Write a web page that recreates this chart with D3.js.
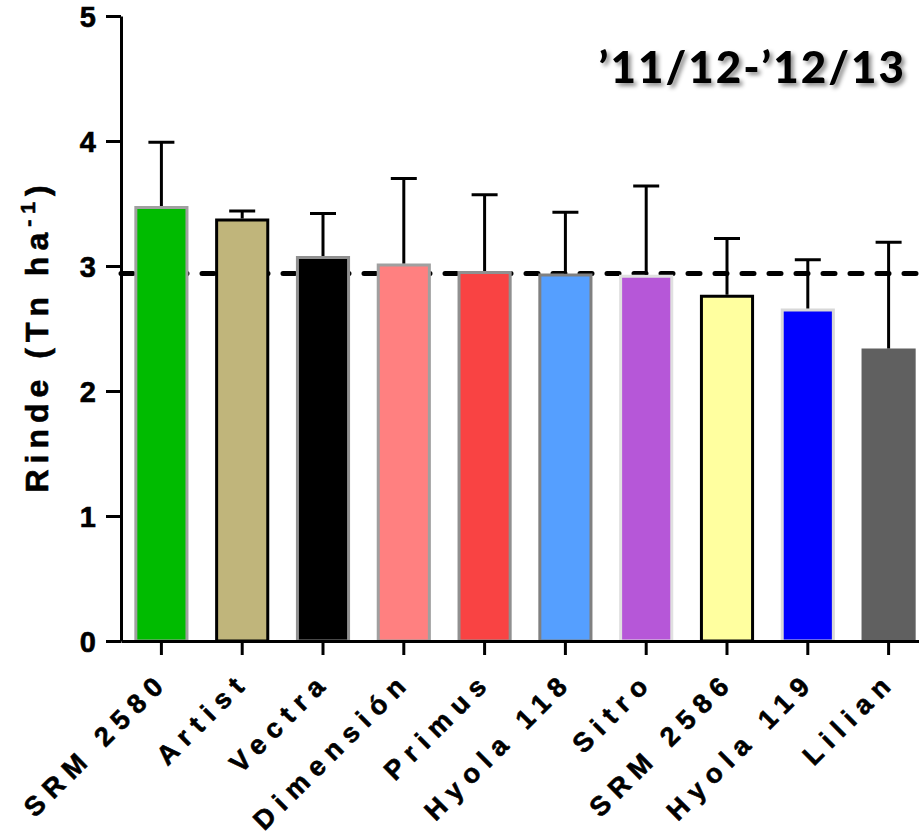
<!DOCTYPE html>
<html>
<head>
<meta charset="utf-8">
<script src="https://cdn.jsdelivr.net/npm/d3@7.9.0/dist/d3.min.js"></script>
<style>
  html, body { margin: 0; padding: 0; background: #fff; }
  svg { display: block; }
  .axis text { font-family: "Liberation Sans", Arial, sans-serif; font-weight: bold; fill: #000; stroke: #000; stroke-width: 0.6px; }
  .axis path, .axis line { stroke: #000; stroke-width: 3; }
</style>
</head>
<body>
<svg width="919" height="836"></svg>
<script>
// data
const cultivars = ['SRM 2580', 'Artist', 'Vectra', 'Dimensión', 'Primus', 'Hyola 118', 'Sitro', 'SRM 2586', 'Hyola 119', 'Lilian'];
const rinde = [3.48, 3.38, 3.08, 3.02, 2.96, 2.94, 2.93, 2.77, 2.66, 2.34];
const errorTop = [3.99, 3.44, 3.42, 3.70, 3.57, 3.43, 3.64, 3.22, 3.05, 3.19];
const fills = ['#00bb00', '#c0b57b', '#000000', '#ff8080', '#f94343', '#559fff', '#b657d8', '#ffff9f', '#0000ff', '#606060'];
const strokes = ['#a0a0a0', '#000000', '#909090', '#a0a0a0', '#909090', '#808080', '#e0e0e0', '#000000', '#d8d8d8', '#606060'];
const promedio = 2.94;
const yTicks = [0, 1, 2, 3, 4, 5];

const svg = d3.select('svg');

const x = d3.scaleBand()
  .domain(cultivars)
  .range([121, 929])
  .paddingInner(0.33)
  .paddingOuter(0.165);

const y = d3.scaleLinear().domain([0, 5]).range([641, 16]);

// dashed mean line (behind bars)
svg.append('line')
  .attr('x1', 121).attr('x2', 919)
  .attr('y1', y(promedio)).attr('y2', y(promedio))
  .attr('stroke', '#000')
  .attr('stroke-width', 5)
  .attr('stroke-linecap', 'round')
  .attr('stroke-dasharray', '12 15');

// bars
svg.selectAll('rect.bar')
  .data(cultivars)
  .join('rect')
  .attr('class', 'bar')
  .attr('x', d => x(d) + 1.5)
  .attr('width', x.bandwidth() - 3)
  .attr('y', (d, i) => y(rinde[i]) + 1.5)
  .attr('height', (d, i) => y(0) - y(rinde[i]) - 1.5)
  .attr('fill', (d, i) => fills[i])
  .attr('stroke', (d, i) => strokes[i])
  .attr('stroke-width', 3);

// error bars (upper only)
const err = svg.append('g').attr('stroke', '#000').attr('stroke-width', 3);
cultivars.forEach((c, i) => {
  const cx = x(c) + x.bandwidth() / 2;
  err.append('line')
    .attr('x1', cx).attr('x2', cx)
    .attr('y1', y(rinde[i])).attr('y2', y(errorTop[i]));
  err.append('line')
    .attr('x1', cx - 13).attr('x2', cx + 13)
    .attr('y1', y(errorTop[i])).attr('y2', y(errorTop[i]));
});

// y axis
const yAxis = svg.append('g')
  .attr('class', 'axis')
  .attr('transform', 'translate(121,0)')
  .call(d3.axisLeft(y).tickValues(yTicks).tickFormat(d3.format('d')).tickSize(15).tickSizeOuter(0).tickPadding(10));
yAxis.selectAll('text').style('font-size', '29px').attr('dy', '0.36em');

// x axis
const xAxis = svg.append('g')
  .attr('class', 'axis')
  .attr('transform', `translate(0,${y(0)})`)
  .call(d3.axisBottom(x).tickSize(14).tickSizeOuter(0));
xAxis.selectAll('text')
  .style('font-size', '27px')
  .style('letter-spacing', '8px')
  .attr('text-anchor', 'end')
  .attr('dy', null)
  .attr('y', null)
  .attr('transform', 'translate(9,42) rotate(-45)');

// y label
const yl = svg.append('text')
  .attr('transform', 'translate(48,336) rotate(-90)')
  .attr('text-anchor', 'middle')
  .style('font-family', '"Liberation Sans", Arial, sans-serif')
  .style('font-weight', 'bold')
  .style('font-size', '32px')
  .style('letter-spacing', '6px')
  .attr('stroke', '#000')
  .attr('stroke-width', 0.6);
yl.append('tspan').text('Rinde (Tn ha');
yl.append('tspan').attr('dy', -13).style('font-size', '21px').text('-1');
yl.append('tspan').attr('dy', 13).text(')');

// title with shadow
const defs = svg.append('defs');
const f = defs.append('filter').attr('id', 'shadow').attr('x', '-10%').attr('y', '-20%').attr('width', '130%').attr('height', '150%');
f.append('feDropShadow').attr('dx', 3).attr('dy', 3).attr('stdDeviation', 2).attr('flood-color', '#000').attr('flood-opacity', 0.45);

svg.append('text')
  .attr('x', 906).attr('y', 83)
  .attr('text-anchor', 'end')
  .attr('filter', 'url(#shadow)')
  .style('font-family', 'Lato, "Open Sans", sans-serif')
  .style('font-weight', '900')
  .style('font-size', '44px')
  .style('letter-spacing', '2px')
  .text('\u201911/12-\u201912/13');
</script>
</body>
</html>
